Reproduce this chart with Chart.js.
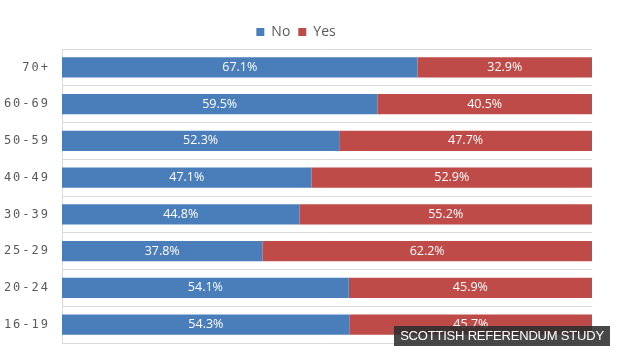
<!DOCTYPE html>
<html><head><meta charset="utf-8">
<script src="https://cdn.jsdelivr.net/npm/chart.js@4/dist/chart.umd.min.js"></script>
<style>
html,body{margin:0;padding:0;background:#fff;}
#wrap{position:relative;width:621px;height:355px;}
#badge{position:absolute;left:394px;top:326px;width:216px;height:20px;background:rgba(45,45,45,0.88);color:#fff;font-family:"Liberation Sans",Arial,sans-serif;font-size:13px;line-height:20px;text-align:center;letter-spacing:-0.2px;}
</style></head>
<body><div id="wrap"><canvas id="c" width="621" height="355"></canvas><div id="badge">SCOTTISH REFERENDUM STUDY</div></div>
<script>
const categories = ["70+","60-69","50-59","40-49","30-39","25-29","20-24","16-19"];
const noValues = [67.1,59.5,52.3,47.1,44.8,37.8,54.1,54.3];
const yesValues = [32.9,40.5,47.7,52.9,55.2,62.2,45.9,45.7];
const seriesNames = ["No","Yes"];

const spacing = {
  id:'spacing',
  afterLayout(chart){
    const s=chart.scales.y;
    if(s && !s._wrapped){
      const orig=s.drawLabels.bind(s);
      s.drawLabels=function(a){const c=this.ctx;const p=c.letterSpacing;c.letterSpacing='2px';orig(a);c.letterSpacing=p||'0px';};
      s._wrapped=true;
    }
  }
};
const labelsPlugin = {
  id:'barLabels',
  afterDatasetsDraw(chart){
    const ctx=chart.ctx;
    ctx.save();
    ctx.font='12.5px "Open Sans", "DejaVu Sans", sans-serif';
    ctx.fillStyle='#ffffff';
    ctx.textAlign='center';ctx.textBaseline='middle';
    chart.data.datasets.forEach((ds,i)=>{
      chart.getDatasetMeta(i).data.forEach((bar,j)=>{
        const x=(bar.x+bar.base)/2;
        ctx.fillText(ds.data[j].toFixed(1)+'%',x,bar.y);
      });
    });
    ctx.restore();
  }
};
new Chart(document.getElementById('c'),{
  type:'bar',
  data:{labels:categories,datasets:[
    {label:seriesNames[0],data:noValues,backgroundColor:'#4A7EBB'},
    {label:seriesNames[1],data:yesValues,backgroundColor:'#BE4B48'}
  ]},
  options:{
    indexAxis:'y',responsive:false,animation:false,
    categoryPercentage:1,barPercentage:0.55,
    layout:{padding:{top:17,right:29,bottom:12,left:0}},
    plugins:{
      tooltip:{enabled:false},
      legend:{position:'top',labels:{boxWidth:8,boxHeight:8,padding:8,color:'#595959',font:{size:14,family:'"Open Sans","DejaVu Sans",sans-serif'}}}
    },
    scales:{
      x:{stacked:true,min:0,max:100,display:false},
      y:{stacked:true,
        grid:{color:'#d9d9d9',drawTicks:false,offset:true},
        border:{color:'#d9d9d9'},
        ticks:{color:'#595959',padding:12,font:{size:12,family:'"DejaVu Sans Mono",monospace'}},
        afterFit(s){s.width=62;s.paddingTop=0;s.paddingBottom=0;}
      }
    }
  },
  plugins:[spacing,labelsPlugin]
});
</script></body></html>
